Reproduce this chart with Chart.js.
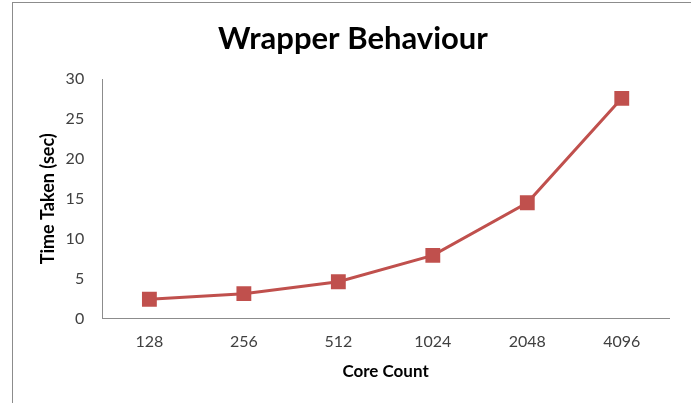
<!DOCTYPE html>
<html>
<head>
<meta charset="utf-8">
<script src="https://cdn.jsdelivr.net/npm/chart.js@4"></script>
<style>
  html, body { margin: 0; padding: 0; background: #fff; }
  #wrap { position: relative; width: 691px; height: 403px; overflow: hidden; }
  #frame { position: absolute; left: 12px; top: 2px; width: 700px; height: 500px; border: 1px solid #8c8c8c; box-sizing: border-box; }
  canvas { position: absolute; left: 0; top: 0; }
</style>
</head>
<body>
<div id="wrap">
  <div id="frame"></div>
  <canvas id="c" width="691" height="403"></canvas>
</div>
<script>
const categories = ["128", "256", "512", "1024", "2048", "4096"];
const timeTaken = [2.4, 3.1, 4.6, 7.9, 14.5, 27.6];
const yTicks = [0, 5, 10, 15, 20, 25, 30];

const FONT = "Lato, 'Open Sans', sans-serif";

new Chart(document.getElementById('c'), {
  type: 'line',
  data: {
    labels: categories,
    datasets: [{
      label: 'Time Taken',
      data: timeTaken,
      borderColor: '#C0504D',
      backgroundColor: '#C0504D',
      borderWidth: 3,
      pointStyle: 'rect',
      pointRadius: 10.5,
      pointHoverRadius: 10.5,
      pointBorderWidth: 0,
      tension: 0,
      fill: false
    }]
  },
  options: {
    responsive: false,
    animation: false,
    devicePixelRatio: 1,
    layout: { padding: { left: 37, right: 22, top: 12, bottom: 21 } },
    plugins: {
      legend: { display: false },
      tooltip: { enabled: false },
      title: {
        display: true,
        text: 'Wrapper Behaviour',
        color: '#000',
        font: { family: FONT, size: 31, weight: 'bold' },
        padding: { top: 8, bottom: 22 }
      }
    },
    scales: {
      x: {
        offset: true,
        grid: { display: false, drawTicks: false },
        border: { display: true, color: '#8c8c8c', width: 1 },
        ticks: { color: '#404040', font: { family: FONT, size: 16 }, padding: 14 },
        title: {
          display: true, text: 'Core Count', color: '#000',
          font: { family: FONT, size: 17, weight: 'bold' },
          padding: { top: -4, bottom: 0 }
        }
      },
      y: {
        min: 0, max: 30,
        afterBuildTicks: (axis) => { axis.ticks = yTicks.map(v => ({ value: v })); },
        grid: { display: false, drawTicks: false },
        border: { display: true, color: '#8c8c8c', width: 1 },
        ticks: { color: '#404040', font: { family: FONT, size: 16 }, padding: 18 },
        title: {
          display: true, text: 'Time Taken (sec)', color: '#000',
          font: { family: FONT, size: 18, weight: 'bold' },
          padding: { top: 0, bottom: -11 }
        }
      }
    }
  }
});
</script>
</body>
</html>
